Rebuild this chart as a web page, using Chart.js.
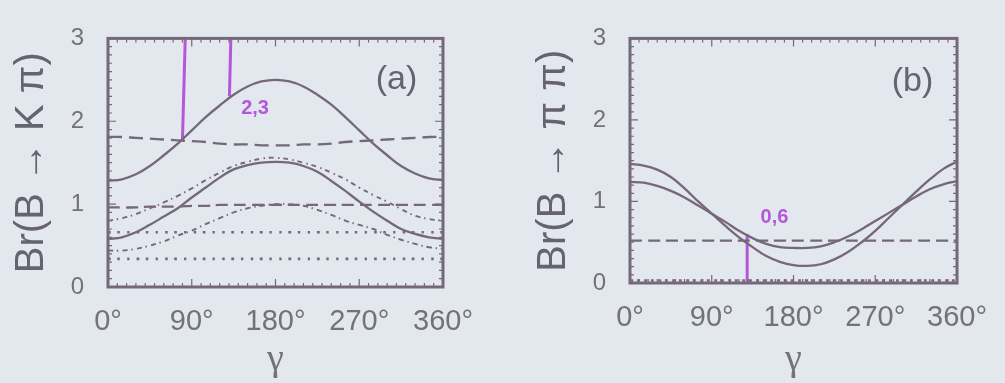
<!DOCTYPE html>
<html>
<head>
<meta charset="utf-8">
<script src="https://cdn.jsdelivr.net/npm/chart.js@4.4.1/dist/chart.umd.min.js"></script>
<style>
  html, body { margin: 0; padding: 0; background: #e3e7ee; }
  body { width: 1005px; height: 383px; position: relative; overflow: hidden; }
  .panel { position: absolute; top: 0; height: 383px; }
  #panelA { left: 0; width: 500px; }
  #panelB { left: 500px; width: 505px; }
</style>
</head>
<body>
<div class="panel" id="panelA"><canvas id="chartA" width="500" height="383"></canvas></div>
<div class="panel" id="panelB"><canvas id="chartB" width="505" height="383"></canvas></div>
<script>
// weak phase gamma (degrees)
const gamma = [0, 15, 30, 45, 60, 75, 90, 105, 120, 135, 150, 165, 180,
               195, 210, 225, 240, 255, 270, 285, 300, 315, 330, 345, 360];
const xTicks = [0, 90, 180, 270, 360];
const yTicks = [0, 1, 2, 3];

// (a) Br(B -> K pi) curves
const kpSolidUpper  = [1.28, 1.30, 1.36, 1.46, 1.59, 1.73, 1.89, 2.05, 2.19, 2.32, 2.42, 2.48, 2.50,
                       2.48, 2.42, 2.32, 2.20, 2.05, 1.89, 1.73, 1.59, 1.46, 1.37, 1.31, 1.29];
const kpDashedUpper = [1.81, 1.81, 1.80, 1.79, 1.78, 1.77, 1.76, 1.75, 1.73, 1.72, 1.72, 1.71, 1.71,
                       1.71, 1.72, 1.72, 1.73, 1.75, 1.76, 1.77, 1.78, 1.79, 1.80, 1.81, 1.81];
const kpSolidLower  = [0.58, 0.60, 0.66, 0.75, 0.85, 0.95, 1.08, 1.20, 1.32, 1.42, 1.47, 1.50, 1.51,
                       1.50, 1.46, 1.39, 1.28, 1.16, 1.03, 0.91, 0.80, 0.70, 0.64, 0.60, 0.58];
const kpDashDotUpper = [0.80, 0.83, 0.88, 0.95, 1.02, 1.10, 1.19, 1.29, 1.38, 1.46, 1.51, 1.55, 1.56,
                        1.54, 1.50, 1.45, 1.38, 1.30, 1.20, 1.11, 1.03, 0.94, 0.86, 0.82, 0.80];
const kpDashedLower = [0.96, 0.96, 0.96, 0.97, 0.97, 0.97, 0.98, 0.98, 0.99, 0.99, 0.99, 0.99, 0.99,
                       0.99, 0.99, 0.99, 0.99, 0.99, 0.99, 0.99, 0.99, 0.99, 0.99, 0.99, 0.99];
const kpDashDotLower = [0.44, 0.44, 0.46, 0.50, 0.55, 0.62, 0.68, 0.76, 0.83, 0.90, 0.95, 0.98, 1.00,
                        1.00, 0.98, 0.93, 0.87, 0.80, 0.75, 0.70, 0.63, 0.57, 0.52, 0.48, 0.46];
const kpDottedMid   = [0.66, 0.66, 0.66, 0.66, 0.66, 0.66, 0.66, 0.66, 0.66, 0.66, 0.66, 0.66, 0.66,
                       0.66, 0.66, 0.66, 0.66, 0.66, 0.66, 0.66, 0.66, 0.66, 0.66, 0.66, 0.66];
const kpDottedLow   = [0.34, 0.34, 0.34, 0.34, 0.34, 0.34, 0.34, 0.34, 0.34, 0.34, 0.34, 0.34, 0.34,
                       0.34, 0.34, 0.34, 0.34, 0.34, 0.34, 0.34, 0.34, 0.34, 0.34, 0.34, 0.34];
// hand-drawn reading lines in (a): [gamma, Br] end points
const kpMarkLeft  = [[83, 3.0], [80, 1.77]];
const kpMarkRight = [[132, 3.0], [130.5, 2.3]];

// (b) Br(B -> pi pi) curves
const ppSolidDeep    = [1.46, 1.44, 1.39, 1.30, 1.16, 1.00, 0.85, 0.70, 0.56, 0.44, 0.33, 0.26, 0.22,
                        0.21, 0.23, 0.29, 0.38, 0.50, 0.64, 0.80, 0.96, 1.12, 1.27, 1.40, 1.49];
const ppSolidShallow = [1.24, 1.23, 1.19, 1.13, 1.05, 0.95, 0.85, 0.75, 0.64, 0.55, 0.48, 0.44, 0.43,
                        0.43, 0.45, 0.50, 0.57, 0.66, 0.76, 0.86, 0.96, 1.06, 1.15, 1.21, 1.25];
const ppDashed       = [0.52, 0.52, 0.52, 0.52, 0.52, 0.52, 0.52, 0.52, 0.52, 0.52, 0.52, 0.52, 0.52,
                        0.52, 0.52, 0.52, 0.52, 0.52, 0.52, 0.52, 0.52, 0.52, 0.52, 0.52, 0.52];
const ppDotted       = [0.03, 0.03, 0.03, 0.03, 0.03, 0.03, 0.03, 0.03, 0.03, 0.03, 0.03, 0.03, 0.03,
                        0.03, 0.03, 0.03, 0.03, 0.03, 0.03, 0.03, 0.03, 0.03, 0.03, 0.03, 0.03];
const ppMark = [[129, 0.6], [129, 0.0]];

const INK = '#756878';
const TEXT = '#75717a';
const PEN = '#b458da';

function pts(ys) { return gamma.map((g, i) => ({ x: g, y: ys[i] })); }
function pairs(p) { return p.map(([x, y]) => ({ x, y })); }

function curve(ys, dash, width) {
  return { data: pts(ys), borderColor: INK, borderWidth: width || 2, borderDash: dash || [],
           pointRadius: 0, tension: 0.4, fill: false };
}
function penLine(p) {
  return { data: pairs(p), borderColor: PEN, borderWidth: 3, pointRadius: 0, tension: 0, fill: false };
}

// frame with inward minor/major ticks on all four sides
const framePlugin = {
  id: 'frame',
  afterDatasetsDraw(chart) {
    const { ctx, chartArea: a, scales: { x, y } } = chart;
    ctx.save();
    ctx.strokeStyle = INK;
    ctx.lineWidth = 1.2;
    ctx.beginPath();
    for (let g = 0; g <= 360; g += 10) {
      const px = x.getPixelForValue(g);
      const len = g % 90 === 0 ? 8 : 4;
      ctx.moveTo(px, a.top); ctx.lineTo(px, a.top + len);
      ctx.moveTo(px, a.bottom); ctx.lineTo(px, a.bottom - len);
    }
    for (let k = 0; k <= 30; k++) {
      const py = y.getPixelForValue(k / 10);
      const len = k % 10 === 0 ? 8 : 4;
      ctx.moveTo(a.left, py); ctx.lineTo(a.left + len, py);
      ctx.moveTo(a.right, py); ctx.lineTo(a.right - len, py);
    }
    ctx.stroke();
    ctx.lineWidth = 3;
    ctx.strokeRect(a.left, a.top, a.right - a.left, a.bottom - a.top);
    ctx.restore();
  }
};

// panel tag and handwritten value notes
const notesPlugin = {
  id: 'notes',
  afterDatasetsDraw(chart, args, opts) {
    const { ctx, scales: { x, y } } = chart;
    ctx.save();
    ctx.textAlign = 'center';
    ctx.textBaseline = 'middle';
    (opts.items || []).forEach(it => {
      ctx.font = it.font;
      ctx.fillStyle = it.color;
      ctx.fillText(it.text, x.getPixelForValue(it.at[0]), y.getPixelForValue(it.at[1]));
    });
    ctx.restore();
  }
};

function makeChart(id, datasets, yTitle, geom, notes) {
  return new Chart(document.getElementById(id), {
    type: 'line',
    data: { datasets },
    plugins: [framePlugin, notesPlugin],
    options: {
      responsive: false,
      animation: false,
      layout: { padding: { top: geom.top, right: geom.right, left: 0, bottom: 0 } },
      plugins: { legend: { display: false }, tooltip: { enabled: false }, notes: { items: notes } },
      scales: {
        x: {
          type: 'linear', min: 0, max: 360,
          afterBuildTicks: s => { s.ticks = xTicks.map(v => ({ value: v })); },
          afterFit: s => { s.height = geom.xh; },
          grid: { display: false, drawTicks: false },
          border: { display: false },
          ticks: {
            autoSkip: false, maxRotation: 0, padding: 18,
            color: TEXT, font: { family: 'Liberation Sans', size: 29 },
            callback: v => v + '°'
          },
          title: {
            display: true, text: 'γ', color: TEXT,
            font: { family: 'Liberation Serif', size: 38 },
            padding: { top: 0, bottom: 0 }
          }
        },
        y: {
          type: 'linear', min: 0, max: 3,
          afterBuildTicks: s => { s.ticks = yTicks.map(v => ({ value: v })); },
          afterFit: s => { s.width = geom.yw; },
          grid: { display: false, drawTicks: false },
          border: { display: false },
          ticks: {
            padding: 24, color: TEXT,
            font: { family: 'Liberation Sans', size: 24 },
            callback: v => String(v)
          },
          title: {
            display: true, text: yTitle, color: '#67636e',
            font: { family: 'Liberation Sans', size: 40 },
            padding: { top: geom.titlePad, bottom: 0 }
          }
        }
      }
    }
  });
}

makeChart('chartA', [
  curve(kpSolidUpper, [], 2.3),
  curve(kpDashedUpper, [14, 7], 2.3),
  curve(kpSolidLower, [], 2.3),
  curve(kpDashDotUpper, [5, 4, 1.5, 4], 1.9),
  curve(kpDashedLower, [12, 6], 2.3),
  curve(kpDashDotLower, [5, 4, 1.5, 4], 1.9),
  curve(kpDottedMid, [2.5, 7], 2.6),
  curve(kpDottedLow, [2.5, 7], 2.6),
  penLine(kpMarkLeft),
  penLine(kpMarkRight)
], 'Br(B → K π)', { top: 22, right: 57, xh: 96, yw: 108, titlePad: 8 }, [
  { text: '(a)', at: [310, 2.5], font: '34px "Liberation Sans"', color: '#67636e' },
  { text: '2,3', at: [158, 2.16], font: 'bold 20px "Liberation Sans"', color: PEN }
]);

makeChart('chartB', [
  curve(ppSolidDeep, [], 2.3),
  curve(ppSolidShallow, [], 2.3),
  curve(ppDashed, [12, 6], 2.3),
  curve(ppDotted, [3, 4], 2.4),
  penLine(ppMark)
], 'Br(B → π π)', { top: 20, right: 40, xh: 100, yw: 130, titlePad: 30 }, [
  { text: '(b)', at: [311, 2.47], font: '34px "Liberation Sans"', color: '#67636e' },
  { text: '0,6', at: [159, 0.8], font: 'bold 20px "Liberation Sans"', color: PEN }
]);
</script>
</body>
</html>
